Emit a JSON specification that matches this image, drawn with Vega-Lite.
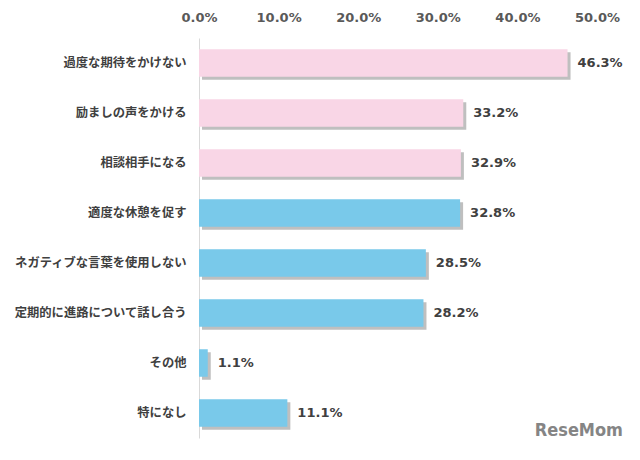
{
  "$schema": "https://vega.github.io/schema/vega-lite/v6.json",
  "width": 398,
  "height": 400,
  "autosize": {"type": "none"},
  "padding": {"left": 199, "top": 38, "right": 43, "bottom": 22},
  "background": "white",
  "title": {"text": "ReseMom", "orient": "bottom", "anchor": "end", "align": "right", "frame": "group", "fontSize": 18, "font": "DejaVu Sans Condensed, DejaVu Sans", "fontWeight": "bold", "color": "#858585", "offset": -16, "dx": 26},
  "config": {"view": {"stroke": null}},
  "data": {"values": [
    {"item": "過度な期待をかけない", "value": 46.3, "group": "pink"},
    {"item": "励ましの声をかける", "value": 33.2, "group": "pink"},
    {"item": "相談相手になる", "value": 32.9, "group": "pink"},
    {"item": "適度な休憩を促す", "value": 32.8, "group": "blue"},
    {"item": "ネガティブな言葉を使用しない", "value": 28.5, "group": "blue"},
    {"item": "定期的に進路について話し合う", "value": 28.2, "group": "blue"},
    {"item": "その他", "value": 1.1, "group": "blue"},
    {"item": "特になし", "value": 11.1, "group": "blue"}
  ]},
  "encoding": {
    "y": {"field": "item", "type": "nominal", "sort": null,
      "scale": {"paddingInner": 0.45, "paddingOuter": 0.225},
      "axis": {"title": null, "ticks": false, "domain": true, "domainColor": "#d9d9d9", "labelFont": "Noto Sans CJK JP", "labelFontSize": 12.3, "labelFontWeight": 600, "labelColor": "#404040", "labelPadding": 13}},
    "x": {"field": "value", "type": "quantitative",
      "scale": {"domain": [0, 50], "nice": false},
      "axis": {"orient": "top", "title": null, "values": [0, 10, 20, 30, 40, 50], "labelExpr": "format(datum.value, '.1f') + '%'", "ticks": false, "domain": false, "grid": false, "labelFont": "DejaVu Sans", "labelFontSize": 13, "labelFontWeight": "bold", "labelColor": "#595959", "labelPadding": 14, "labelFlush": false}}
  },
  "layer": [
    {"mark": {"type": "bar", "color": "#7f7f7f", "opacity": 0.5, "xOffset": 3, "yOffset": 3}},
    {"mark": {"type": "bar"},
      "encoding": {"color": {"field": "group", "type": "nominal", "scale": {"domain": ["pink", "blue"], "range": ["#f9d6e6", "#79c9ea"]}, "legend": null}}},
    {"mark": {"type": "text", "align": "left", "dx": 10, "font": "DejaVu Sans", "fontSize": 13, "fontWeight": "bold", "color": "#404040", "text": {"expr": "format(datum.value, '.1f') + '%'"}}}
  ]
}
